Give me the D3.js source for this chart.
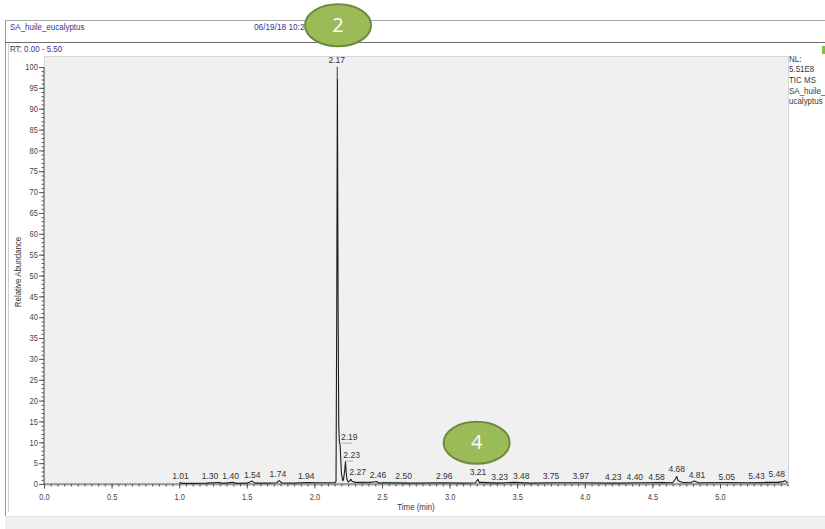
<!DOCTYPE html>
<html><head><meta charset="utf-8">
<script src="https://cdn.jsdelivr.net/npm/d3@7"></script>
<style>
html,body{margin:0;padding:0;background:#fff;}
svg{display:block;font-family:"Liberation Sans",Arial,sans-serif;}
</style></head>
<body><svg id="c" width="825" height="529"></svg>
<script>
// ---- data ----
const timeDomain = [0, 5.5];
const abundanceDomain = [0, 100];
const xTickValues = [0.0, 0.5, 1.0, 1.5, 2.0, 2.5, 3.0, 3.5, 4.0, 4.5, 5.0];
const yTickValues = [0, 5, 10, 15, 20, 25, 30, 35, 40, 45, 50, 55, 60, 65, 70, 75, 80, 85, 90, 95, 100];

// chromatogram trace: retention time (min), relative abundance (%)
const traceTimes = [1.00,1.01,1.02,1.10,1.20,1.30,1.32,1.40,1.42,1.50,1.54,1.56,1.65,1.72,1.74,1.76,1.85,1.94,2.05,2.15,2.16,2.165,2.17,2.175,2.18,2.185,2.19,2.195,2.20,2.21,2.215,2.225,2.23,2.235,2.24,2.25,2.26,2.27,2.28,2.30,2.40,2.46,2.48,2.50,2.70,2.96,3.10,3.19,3.21,3.22,3.23,3.35,3.48,3.60,3.75,3.97,4.23,4.40,4.58,4.65,4.67,4.68,4.69,4.72,4.78,4.81,4.84,5.05,5.20,5.40,5.43,5.46,5.48,5.50];
const traceValues = [0.1,0.4,0.15,0.15,0.2,0.35,0.15,0.4,0.15,0.2,0.7,0.2,0.2,0.3,0.8,0.25,0.2,0.35,0.3,0.3,0.6,40,100,45,14,10,9.4,6,2.5,0.8,1.0,3.5,5.3,3,1.2,0.5,0.7,1.1,0.6,0.4,0.3,0.6,0.2,0.3,0.2,0.3,0.2,0.3,1.1,0.3,0.4,0.2,0.4,0.2,0.3,0.3,0.2,0.3,0.35,0.3,1.2,1.8,0.8,0.4,0.3,0.7,0.3,0.35,0.3,0.35,0.4,0.5,0.8,0.3];

// peak labels
const peakLabels  = ["1.01","1.30","1.40","1.54","1.74","1.94","2.17","2.19","2.23","2.27","2.46","2.50","2.96","3.21","3.23","3.48","3.75","3.97","4.23","4.40","4.58","4.68","4.81","5.05","5.43","5.48"];
const labelTimes  = [1.01,1.30,1.40,1.54,1.74,1.94,2.17,2.19,2.23,2.27,2.46,2.50,2.96,3.21,3.23,3.48,3.75,3.97,4.23,4.40,4.58,4.68,4.81,5.05,5.43,5.48];
const labelAt     = [1.01,1.228,1.38,1.54,1.73,1.94,2.165,2.258,2.275,2.32,2.47,2.66,2.96,3.21,3.37,3.53,3.75,3.97,4.21,4.37,4.53,4.68,4.83,5.05,5.27,5.42];
const labelHeights= [0.25,0.15,0.25,0.5,0.7,0.15,100,9.5,5.3,1.2,0.5,0.2,0.2,1.25,0.1,0.15,0.3,0.3,0.0,0.0,0.0,1.9,0.55,0.0,0.3,0.8];

// integration baselines (green): start time, end time, level
const baseStart = [1.235,2.197,2.226,2.286,2.50,3.225,4.52,5.333];
const baseEnd   = [1.302,2.278,2.286,2.426,2.685,3.373,4.59,5.466];
const baseLevel = [0.3,9.8,5.5,0.55,0.4,0.4,0.4,0.6];

// header / side info
const fileName = "SA_huile_eucalyptus";
const dateText = "06/19/18 10:24:33";
const rtLabel = "RT:";
const rtRange = "0.00 - 5.50";
const sideInfo = ["NL:", "5.51E8", "TIC  MS", "SA_huile_", "ucalyptus"];

// annotation bubbles: label, time, abundance
const bubbleLabels = ["2", "4"];
const bubbleTimes = [2.175, 3.2];
const bubbleValues = [110, 9.9];

// ---- drawing ----
const svg = d3.select("#c");
const FONT = '"Liberation Sans",Arial,sans-serif';
const x = d3.scaleLinear().domain(timeDomain).range([44, 787.6]);
const y = d3.scaleLinear().domain(abundanceDomain).range([484, 67]);

function txt(g, px, py, s, o) {
  o = o || {};
  const t = g.append("text")
    .attr("transform", `translate(${px},${py})` + (o.rot ? ` rotate(${o.rot})` : "") + ` scale(${o.sx || 0.88},1)`)
    .attr("font-size", o.size || 9)
    .attr("fill", o.fill || "#333")
    .attr("text-anchor", o.anchor || "start")
    .attr("dominant-baseline", "middle")
    .text(s);
  return t;
}

// frame
svg.append("rect").attr("x", 5).attr("y", 516).attr("width", 820).attr("height", 13).attr("fill", "#efefef");
svg.append("line").attr("x1", 5).attr("x2", 825).attr("y1", 516.5).attr("y2", 516.5).attr("stroke", "#e4e4e4");
svg.append("line").attr("x1", 5.5).attr("x2", 5.5).attr("y1", 20).attr("y2", 516).attr("stroke", "#9a9a9a");
svg.append("line").attr("x1", 8.5).attr("x2", 8.5).attr("y1", 42).attr("y2", 512).attr("stroke", "#d0d0d0");
svg.append("line").attr("x1", 5).attr("x2", 825).attr("y1", 20.5).attr("y2", 20.5).attr("stroke", "#a8a8a8");
svg.append("line").attr("x1", 5).attr("x2", 825).attr("y1", 42.5).attr("y2", 42.5).attr("stroke", "#6e6e6e");
svg.append("rect").attr("x", 822).attr("y", 46).attr("width", 3).attr("height", 8).attr("fill", "#7cc242");

// header text
txt(svg, 10, 27, fileName, {fill: "#343492", size: 9.5, sx: 0.84});
txt(svg, 254, 27, dateText, {fill: "#343492", size: 9.5, sx: 0.87});
const rt = txt(svg, 10, 50, "", {size: 9.5, sx: 0.84});
rt.append("tspan").attr("fill", "#333").text(rtLabel + " ");
rt.append("tspan").attr("fill", "#343492").text(rtRange);

// plot panel
svg.append("rect").attr("x", 44.5).attr("y", 56.5).attr("width", 744).attr("height", 429)
  .attr("fill", "#f0f0f0").attr("stroke", "#d6d6d6");

// side info
sideInfo.forEach((s, i) => txt(svg, 789, [59, 69.5, 80.5, 91, 101.5][i], s, {size: 9.5, sx: 0.84, fill: "#3a3a3a"}));

// axes
const axisColor = "#555";
const yMinor = svg.append("g").attr("transform", "translate(44,0)")
  .call(d3.axisLeft(y).tickValues(d3.range(0, 101, 1)).tickSize(2.5).tickFormat(""));
const yMajor = svg.append("g").attr("transform", "translate(44,0)")
  .call(d3.axisLeft(y).tickValues(yTickValues).tickSize(5).tickPadding(2).tickFormat(d3.format("d")));
const xMinor = svg.append("g").attr("transform", "translate(0,484)")
  .call(d3.axisBottom(x).tickValues(d3.range(0, 110.5, 1).map(d => d * 0.05)).tickSize(2.5).tickFormat(""));
const xMajor = svg.append("g").attr("transform", "translate(0,484)")
  .call(d3.axisBottom(x).tickValues(xTickValues).tickSize(4.5).tickPadding(5.5).tickFormat(d3.format(".1f")));
[yMinor, yMajor, xMinor, xMajor].forEach(g => {
  g.selectAll("path,line").attr("stroke", axisColor);
  g.selectAll("text").attr("font-family", FONT).attr("font-size", 8.5).attr("fill", "#444")
    .attr("transform", "scale(0.88,1)");
});
xMajor.select(".domain").attr("d", `M${x(0)},0H${x(5.5)}`);
yMajor.select(".domain").attr("d", `M0,${y(0)}V${y(100)}`);
xMinor.select(".domain").remove(); yMinor.select(".domain").remove();

txt(svg, 416, 507.5, "Time (min)", {anchor: "middle", size: 9, sx: 0.88, fill: "#333"});
txt(svg, 19, 272, "Relative Abundance", {anchor: "middle", size: 9, sx: 0.88, rot: -90, fill: "#333"});

// integration baselines
svg.append("g").selectAll("line").data(baseStart.map((s, i) => [s, baseEnd[i], baseLevel[i]]))
  .join("line")
  .attr("x1", d => x(d[0])).attr("x2", d => x(d[1]))
  .attr("y1", d => y(d[2])).attr("y2", d => y(d[2]))
  .attr("stroke", "#8fcf8f").attr("stroke-width", 1);

// trace
const trace = traceTimes.map((t, i) => [t, traceValues[i]]);
svg.append("path").datum(trace)
  .attr("d", d3.line().x(d => x(d[0])).y(d => y(d[1])))
  .attr("fill", "none").attr("stroke", "#1e1e1e").attr("stroke-width", 1.1).attr("stroke-linejoin", "round");

// peak labels
const lg = svg.append("g");
peakLabels.forEach((s, i) => {
  txt(lg, x(labelAt[i]), y(labelHeights[i]) - 6.5, s, {anchor: "middle", size: 9.5, sx: 0.9, fill: "#333"});
});
// leader above main peak
svg.append("line").attr("x1", x(labelTimes[6])).attr("x2", x(labelTimes[6]))
  .attr("y1", y(labelHeights[6])).attr("y2", y(labelHeights[6]) + 12).attr("stroke", "#777");

// annotation bubbles
bubbleLabels.forEach((s, i) => {
  const cx = x(bubbleTimes[i]), cy = y(bubbleValues[i]);
  svg.append("ellipse").attr("cx", cx).attr("cy", cy).attr("rx", 33).attr("ry", 21)
    .attr("fill", "#9bbb59").attr("stroke", "#71893f").attr("stroke-width", 2);
  svg.append("text").attr("x", cx).attr("y", cy + 1).attr("text-anchor", "middle")
    .attr("dominant-baseline", "middle").attr("font-family", '"Open Sans","Liberation Sans",sans-serif')
    .attr("font-size", 20).attr("fill", "#fff").text(s);
});
</script></body></html>
